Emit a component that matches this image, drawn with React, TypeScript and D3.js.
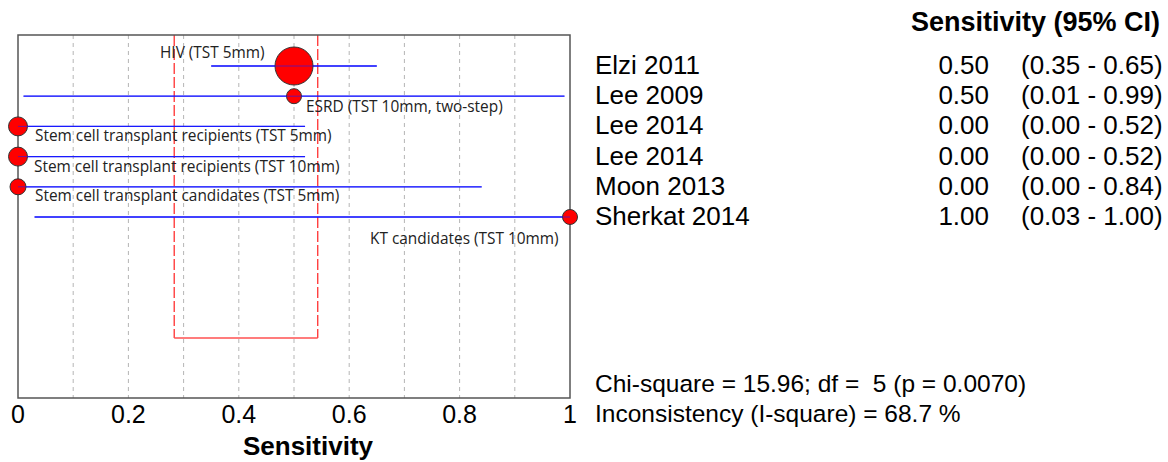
import React from "react";
import * as d3 from "d3";

const studies = ["Elzi 2011", "Lee 2009", "Lee 2014", "Lee 2014", "Moon 2013", "Sherkat 2014"];
const estimates = [0.5, 0.5, 0.0, 0.0, 0.0, 1.0];
const lowers = [0.35, 0.01, 0.0, 0.0, 0.0, 0.03];
const uppers = [0.65, 0.99, 0.52, 0.52, 0.84, 1.0];
const radii = [19, 7.5, 9.5, 9.5, 8, 7.5];
const subgroups = [
  "HIV (TST 5mm)",
  "ESRD (TST 10mm, two-step)",
  "Stem cell transplant recipients (TST 5mm)",
  "Stem cell transplant recipients (TST 10mm)",
  "Stem cell transplant candidates (TST 5mm)",
  "KT candidates (TST 10mm)",
];
const pooledCI = [0.283, 0.543];
const xTicks = [0, 0.2, 0.4, 0.6, 0.8, 1];
const gridValues = [0.1, 0.2, 0.3, 0.4, 0.5, 0.6, 0.7, 0.8, 0.9];
const statsLines = [
  "Chi-square = 15.96; df =  5 (p = 0.0070)",
  "Inconsistency (I-square) = 68.7 %",
];

// label anchor positions – layout only
const labelPos: [number, number][] = [
  [160, 58],
  [306, 112],
  [35, 141],
  [34, 172],
  [35, 201],
  [370, 244],
];

export default function App() {
  const W = 1168, H = 462;
  const left = 18, right = 570, top = 35, bottom = 398;
  const x = d3.scaleLinear().domain([0, 1]).range([left, right]);
  const y = d3.scalePoint<number>().domain(d3.range(studies.length)).range([66, 217]);
  const fmt = d3.format(".2f");
  const arial = "'Liberation Sans', Arial, sans-serif";
  const small = "'Open Sans', sans-serif";

  return (
    <svg width={W} height={H} style={{ position: "absolute", left: 0, top: 0, background: "#fff" }}>
      {/* grid */}
      {gridValues.map((g, i) => (
        <line key={i} x1={x(g)} x2={x(g)} y1={top} y2={bottom} stroke="#b5b5b5" strokeDasharray="4,4" strokeWidth={1} />
      ))}
      {/* pooled bracket */}
      {pooledCI.map((p, i) => (
        <line key={i} x1={x(p)} x2={x(p)} y1={top} y2={338} stroke="#ff3030" strokeDasharray="11,3" strokeWidth={1.3} />
      ))}
      <line x1={x(pooledCI[0])} x2={x(pooledCI[1])} y1={338} y2={338} stroke="#ff5050" strokeWidth={1.5} />
      {/* frame */}
      <rect x={left} y={top} width={right - left} height={bottom - top} fill="none" stroke="#555" strokeWidth={1.5} />
      {/* CIs and points */}
      {studies.map((s, i) => (
        <g key={i}>
          <line x1={x(lowers[i])} x2={x(uppers[i])} y1={y(i)} y2={y(i)} stroke="#1a1aff" strokeWidth={1.3} />
          <circle cx={x(estimates[i])} cy={y(i)} r={radii[i]} fill="#ff0000" stroke="#333" strokeWidth={1} />
          <line x1={x(lowers[i])} x2={x(uppers[i])} y1={y(i)} y2={y(i)} stroke="#1a1aff" strokeWidth={1} opacity={0.6} />
        </g>
      ))}
      {/* subgroup labels */}
      {subgroups.map((t, i) => (
        <text key={i} x={labelPos[i][0]} y={labelPos[i][1]} fontFamily={small} fontSize={15.4} fill="#222">{t}</text>
      ))}
      {/* x ticks */}
      {xTicks.map((t, i) => (
        <text key={i} x={x(t)} y={423} textAnchor="middle" fontFamily={arial} fontSize={25} fill="#000">{d3.format("~g")(t)}</text>
      ))}
      <text x={308} y={455} textAnchor="middle" fontFamily={arial} fontWeight="bold" fontSize={26}>Sensitivity</text>
      {/* right table */}
      <text x={1160} y={31} textAnchor="end" fontFamily={arial} fontWeight="bold" fontSize={27}>Sensitivity (95% CI)</text>
      {studies.map((s, i) => (
        <g key={i} fontFamily={arial} fontSize={26}>
          <text x={595} y={y(i) + 8}>{s}</text>
          <text x={989} y={y(i) + 8} textAnchor="end">{fmt(estimates[i])}</text>
          <text x={1021} y={y(i) + 8}>{`(${fmt(lowers[i])} - ${fmt(uppers[i])})`}</text>
        </g>
      ))}
      {statsLines.map((t, i) => (
        <text key={i} x={595} y={392 + i * 30} fontFamily={arial} fontSize={24.5} style={{ whiteSpace: "pre" }}>{t}</text>
      ))}
    </svg>
  );
}
